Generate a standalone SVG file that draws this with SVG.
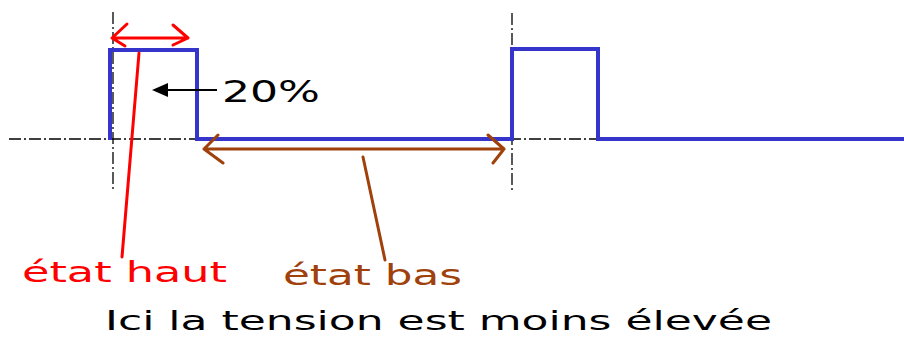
<svg xmlns="http://www.w3.org/2000/svg" width="904" height="337" viewBox="0 0 904 337">
<style>
.axis{stroke:#000;stroke-width:1.3;fill:none;stroke-dasharray:12 3 2 3}
.sig{stroke:#3535cc;stroke-width:4;fill:none;stroke-linejoin:miter}
.red{stroke:#ff0000;stroke-width:3;fill:none;stroke-linecap:round;stroke-linejoin:round}
.brown{stroke:#a0410c;stroke-width:3;fill:none;stroke-linecap:round;stroke-linejoin:round}
.txt{font-family:"DejaVu Sans","Liberation Sans",sans-serif}
</style>
<rect width="904" height="337" fill="#fff"/>
<g id="axes">
<line class="axis" x1="9" y1="139" x2="597" y2="139"/>
<line class="axis" x1="113" y1="12" x2="113" y2="192"/>
<line class="axis" x1="512" y1="13" x2="512" y2="192"/>
</g>
<g id="signal">
<path class="sig" d="M110 140 V50 H197 V139 H512 V49 H598 V139 H904"/>
</g>
<g id="connectors">
<path class="red" d="M112 38 H188 M127 24 L112 38 L125 46 M173 25 L188 38 L173 45"/>
<line class="red" x1="139" y1="53" x2="122" y2="257"/>
<path class="brown" d="M204 149 H504 M218 135 L204 149 L223 163 M488 135 L504 149 L493 163"/>
<line class="brown" x1="363" y1="157" x2="385" y2="260"/>
<line stroke="#000" stroke-width="1.8" x1="166" y1="90" x2="217" y2="90"/>
<polygon points="152,90 168,83 168,97" fill="#000"/>
</g>
<g id="label-20">
<text class="txt" x="222" y="102" font-size="30" textLength="98" lengthAdjust="spacingAndGlyphs" fill="#000">20%</text>
</g>
<g id="label-haut">
<text class="txt" x="22" y="282" font-size="28" textLength="205" lengthAdjust="spacingAndGlyphs" fill="#ff0000">état haut</text>
</g>
<g id="label-bas">
<text class="txt" x="283" y="285" font-size="28" textLength="179" lengthAdjust="spacingAndGlyphs" fill="#a0410c">état bas</text>
</g>
<g id="caption">
<text class="txt" x="105" y="330" font-size="26" textLength="667" lengthAdjust="spacingAndGlyphs" fill="#000">Ici la tension est moins élevée</text>
</g>
</svg>
